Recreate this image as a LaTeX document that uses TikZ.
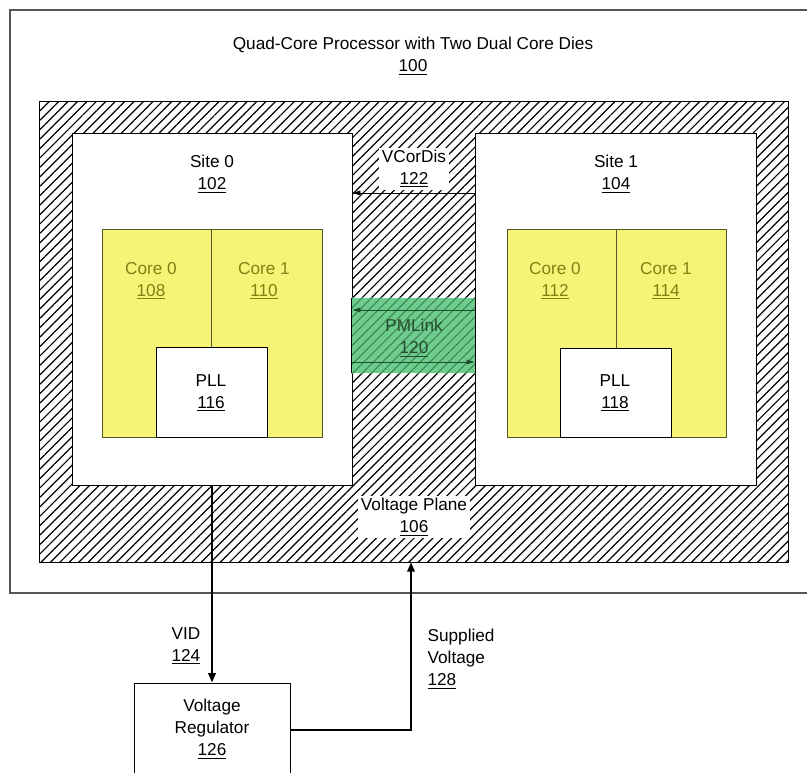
\documentclass[tikz,border=0pt]{standalone}
\usepackage{fontspec}
\setmainfont{Liberation Sans}
\usetikzlibrary{patterns.meta,fit,arrows.meta}

\definecolor{coreyellow}{RGB}{246,244,118}
\definecolor{coretext}{RGB}{128,128,20}
\definecolor{linkgreen}{RGB}{110,204,140}
\definecolor{linkhatch}{RGB}{60,135,88}
\definecolor{linkarrow}{RGB}{30,80,45}
\definecolor{linktext}{RGB}{40,75,50}
\definecolor{framegray}{RGB}{85,85,85}

\begin{document}
\begin{tikzpicture}[x=0.75pt,y=-0.75pt,
  txt/.style={font=\fontsize{12.9}{16.5}\selectfont, align=center, inner sep=1pt},
  blk/.style={draw=black, line width=0.7pt, inner sep=0pt},
  corebox/.style={fill=coreyellow, draw=black!65!coreyellow, line width=0.6pt, inner sep=0pt},
  wire/.style={line width=1.6pt, -{Triangle[length=7pt,width=5.5pt]}},
  sig/.style={line width=0.6pt, -{Triangle[length=6pt,width=3.5pt]}},
  hatch/.style={pattern={Lines[angle=45,distance=5pt,line width=0.9pt]}}]

\useasboundingbox (0,0) rectangle (807,773);
\clip (0,0) rectangle (807,773);

% processor package outline
\node[fit={(10,10) (830,593)}, inner sep=0pt, draw=framegray, line width=0.8pt] (pkg) {};
\node[txt] (title) at (413,56) {Quad-Core Processor with Two Dual Core Dies\\\underline{100}};

% voltage plane (hatched)
\node[fit={(40,102) (788,562)}, inner sep=0pt] (plane) {};
\fill[hatch] (plane.north west) rectangle (plane.south east);
\draw[line width=0.6pt] (plane.north west) rectangle (plane.south east);

% the two sites
\node[fit={(72,133) (352,485)}, blk, fill=white] (site0) {};
\node[fit={(475,133) (756,485)}, blk, fill=white] (site1) {};
\node[txt] at (212,174) {Site 0\\\underline{102}};
\node[txt] at (616,174) {Site 1\\\underline{104}};

% cores of site 0
\node[fit={(102,229) (211,437)}, corebox] (c0a) {};
\node[fit={(211,229) (322,437)}, corebox] (c1a) {};
\node[txt, text=coretext] at (151,281) {Core 0\\\underline{108}};
\node[txt, text=coretext] at (264,281) {Core 1\\\underline{110}};
\node[fit={(156,347) (267,437)}, blk, fill=white] (pll0) {};
\node[txt] at (211,393) {PLL\\\underline{116}};

% cores of site 1
\node[fit={(507,229) (616,437)}, corebox] (c0b) {};
\node[fit={(616,229) (726,437)}, corebox] (c1b) {};
\node[txt, text=coretext] at (555,281) {Core 0\\\underline{112}};
\node[txt, text=coretext] at (666,281) {Core 1\\\underline{114}};
\node[fit={(560,348) (671,437)}, blk, fill=white] (pll1) {};
\node[txt] at (615,393) {PLL\\\underline{118}};

% PMLink between the sites: green band, hatching still visible
\node[fit={(352,298) (475,373)}, inner sep=0pt] (pml) {};
\fill[linkgreen] (pml.north west) rectangle (pml.south east);
\fill[pattern={Lines[angle=45,distance=5pt,line width=0.8pt]}, pattern color=linkhatch]
  (pml.north west) rectangle (pml.south east);
\draw[line width=0.7pt] (pml.north west) -- (pml.south west) (pml.north east) -- (pml.south east);
\node[txt, text=linktext] at (414,338) {PMLink\\\underline{120}};
\coordinate (pmtop) at (0,310);
\coordinate (pmbot) at (0,362);
\draw[sig, draw=linkarrow] (site1.west |- pmtop) -- (site0.east |- pmtop);
\draw[sig, draw=linkarrow] (site0.east |- pmbot) -- (site1.west |- pmbot);

% VCorDis
\node[txt, fill=white, inner sep=2pt] at (414,169) {VCorDis\\\underline{122}};
\coordinate (vcd) at (0,193);
\draw[sig] (site1.west |- vcd) -- (site0.east |- vcd);

% voltage plane label
\node[txt, fill=white, inner sep=2pt] at (414,517) {Voltage Plane\\\underline{106}};

% voltage regulator and its connections
\node[fit={(134,683) (290,800)}, blk] (reg) {};
\node[txt] at (212,729) {Voltage\\Regulator\\\underline{126}};
\draw[wire] (site0.south) -- (site0.south |- reg.north);
\node[txt, align=left, anchor=west] at (170,646) {VID\\\underline{124}};

\coordinate (svcorner) at (411,730);
\draw[wire] (reg.east |- svcorner) -- (svcorner) -- (svcorner |- plane.south);
\node[txt, align=left, anchor=west] at (426,659) {Supplied\\Voltage\\\underline{128}};
\end{tikzpicture}
\end{document}
